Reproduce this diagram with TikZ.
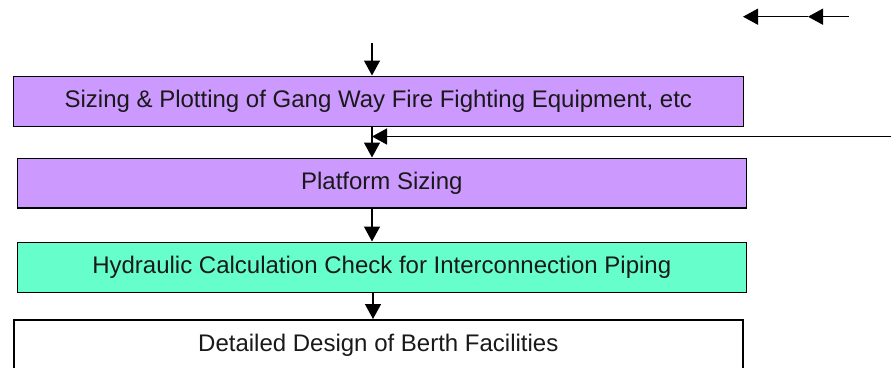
\documentclass[tikz,border=0pt]{standalone}
\usepackage{fontspec}
\setmainfont{Liberation Sans}
\usetikzlibrary{arrows.meta}
\definecolor{lilac}{HTML}{CC99FF}
\definecolor{mint}{HTML}{66FFCC}
\tikzset{
  stagebox/.style={draw=black, line width=1.6pt, anchor=north west, inner sep=0pt,
    font=\fontsize{24}{28}\selectfont, text=black!90},
  arr/.style={line width=1.4pt, -{Triangle[length=15pt,width=16pt]}},
  plainline/.style={line width=1.4pt}
}
\begin{document}
\begin{tikzpicture}[x=1pt,y=-1pt]
  \useasboundingbox (0,0) rectangle (892,367);
  \clip (0,0) rectangle (892,367);

  % process stages
  \node[stagebox, fill=lilac, minimum width=730pt, minimum height=50pt] (b1) at (12.5,75.5)
    {Sizing \& Plotting of Gang Way Fire Fighting Equipment, etc};
  \node[stagebox, fill=lilac, minimum width=729pt, minimum height=49.5pt] (b2) at (16.5,157.5)
    {Platform Sizing};
  \node[stagebox, fill=mint, minimum width=729pt, minimum height=50pt] (b3) at (16.5,241.5)
    {Hydraulic Calculation Check for Interconnection Piping};
  \node[stagebox, fill=white, minimum width=729pt, minimum height=50pt] (b4) at (13,319)
    {Detailed Design of Berth Facilities};

  % flow axis
  \coordinate (top) at (372,43);
  \coordinate (axis4) at (373,0);
  \draw[arr] (top) -- (top |- b1.north);
  \draw[arr] (top |- b1.south) -- (top |- b2.north);
  \draw[arr] (top |- b2.south) -- (top |- b3.north);
  \draw[arr] (axis4 |- b3.south) -- (axis4 |- b4.north);

  % incoming feed on the right
  \coordinate (feed) at (891,136.5);
  \draw[arr] (feed) -- (feed -| top);

  % legend arrow, top right
  \coordinate (lg1) at (849,16.7);
  \coordinate (lg2) at (808,16.7);
  \coordinate (lg3) at (743,16.7);
  \draw[arr] (lg1) -- (lg2);
  \draw[arr] (lg2) -- (lg3);
\end{tikzpicture}
\end{document}
